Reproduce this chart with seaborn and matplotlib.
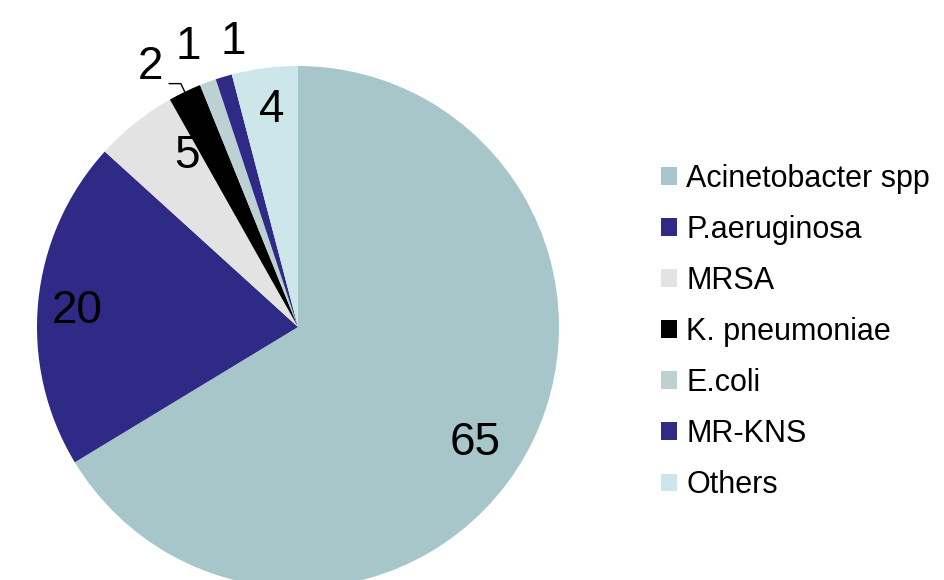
import matplotlib
matplotlib.use("Agg")
import matplotlib.pyplot as plt
import numpy as np
import seaborn as sns
from matplotlib.patches import Patch

# ========================================================================
# DATA
# ========================================================================
organisms = ['Acinetobacter spp', 'P.aeruginosa', 'MRSA', 'K. pneumoniae',
             'E.coli', 'MR-KNS', 'Others']
shares = [65, 20, 5, 2, 1, 1, 4]
colors = ['#A6C6C9', '#2E2A85', '#E3E3E3', '#000000', '#BDD1D4', '#2E2A85', '#CDE6EA']

# LABEL PLACEMENT (RADIUS FACTOR, ANGLE NUDGE IN DEGREES, COUNTER-CLOCKWISE)
label_radius = [0.81, 0.85, 0.78, 1.146, 1.152, 1.12, 0.837]
label_nudge = [-3.8, 1.5, -5.6, 3.95, 1.25, -3.8, -0.5]

# ========================================================================
# FIGURE
# ========================================================================
sns.set_theme(style='white')
plt.rcParams['font.family'] = ['Liberation Sans', 'DejaVu Sans']
plt.rcParams['text.color'] = 'black'

fig = plt.figure(figsize=(9.45, 5.8), dpi=100)
# PIE AXES: CENTER (298, 327) PX, RADIUS 261 PX
ax = fig.add_axes([37 / 945, -8 / 580, 522 / 945, 522 / 580])

wedges, _ = ax.pie(shares, colors=colors, startangle=90, counterclock=False,
                   radius=1, wedgeprops=dict(linewidth=0))
# PIE RESETS THE LIMITS, SO SET THEM AFTERWARDS
ax.set_xlim(-1, 1)
ax.set_ylim(-1, 1)
ax.set_aspect('equal')
ax.axis('off')

# VALUE LABELS
for w, val, r, nudge in zip(wedges, shares, label_radius, label_nudge):
    mid = np.deg2rad((w.theta1 + w.theta2) / 2 + nudge)
    ax.text(r * np.cos(mid), r * np.sin(mid), str(val), ha='center', va='center',
            fontsize=33, color='black', clip_on=False)

# LEADER LINE FOR THE SMALL K. PNEUMONIAE SLICE
kw = wedges[3]
kmid = np.deg2rad((kw.theta1 + kw.theta2) / 2)
edge = np.array([np.cos(kmid), np.sin(kmid)])
elbow = 1.035 * edge
ax.plot([edge[0], elbow[0], elbow[0] - 0.045], [edge[1], elbow[1], elbow[1]],
        color='black', linewidth=1, clip_on=False)

# LEGEND
handles = [Patch(facecolor=c, edgecolor='none') for c in colors]
fig.legend(handles, organisms, loc='center left', bbox_to_anchor=(661 / 945, 1 - 332 / 580),
           frameon=False, fontsize=22, handlelength=0.52, handleheight=0.52,
           handletextpad=0.3, labelspacing=0.69, borderpad=0, borderaxespad=0,
           labelcolor='black')

plt.savefig('out.png', dpi=100)
